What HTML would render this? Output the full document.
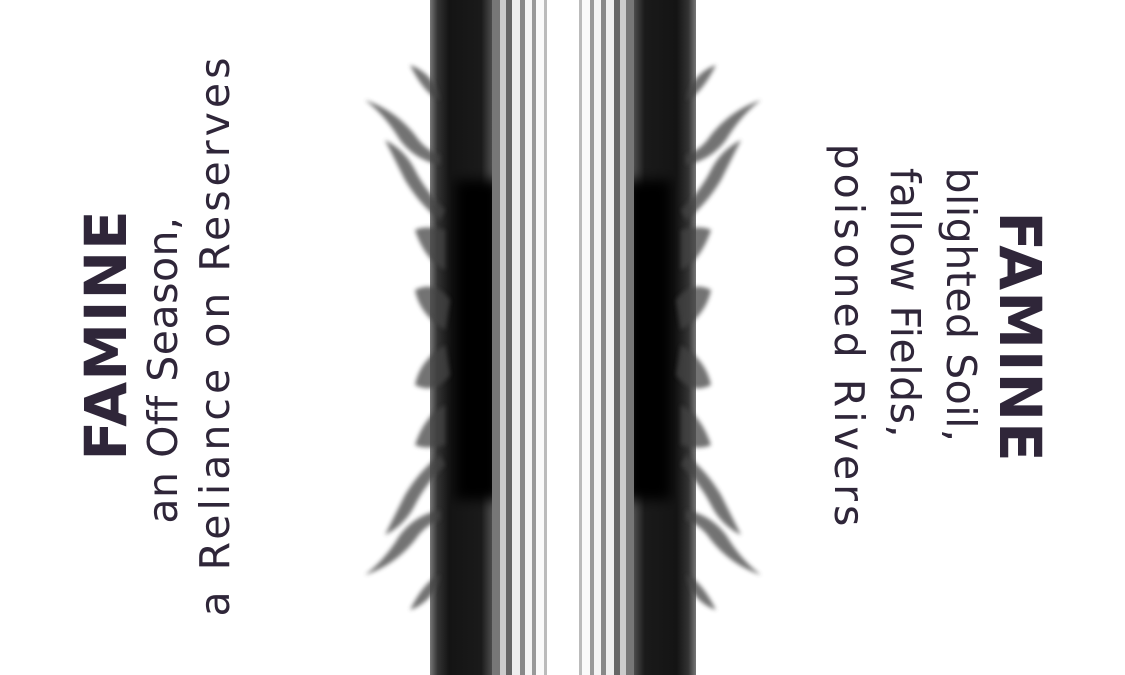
<!DOCTYPE html>
<html><head><meta charset="utf-8"><style>
html,body{margin:0;padding:0;background:#fff;width:1125px;height:675px;overflow:hidden;}
#card{position:relative;width:1125px;height:675px;overflow:hidden;background:#fff;font-family:"DejaVu Sans","Liberation Sans",sans-serif;color:#2f2639;}
.blk{position:absolute;left:0;top:0;width:600px;text-align:center;white-space:nowrap;}
.t{display:block;font-size:41px;line-height:52px;letter-spacing:4px;position:relative;}
.h{display:block;font-size:58px;font-weight:bold;line-height:62px;letter-spacing:1px;}
#right .t{line-height:56px;}
</style></head><body>
<div id="card">
<svg width="1125" height="675" style="position:absolute;left:0;top:0">
<defs>
<filter id="b2"><feGaussianBlur stdDeviation="2"/></filter>
<filter id="b6"><feGaussianBlur stdDeviation="6"/></filter>
<linearGradient id="band" x1="0" x2="1" y1="0" y2="0">
<stop offset="0" stop-color="#777"/><stop offset="0.12" stop-color="#333"/><stop offset="0.3" stop-color="#141414"/><stop offset="0.8" stop-color="#1a1a1a"/><stop offset="1" stop-color="#555"/>
</linearGradient>
<g id="half">
<rect x="430" y="0" width="64" height="675" fill="url(#band)"/>
<rect x="455" y="180" width="45" height="320" fill="#000" filter="url(#b6)"/>
<rect x="492" y="0" width="8" height="675" fill="#777"/>
<rect x="500" y="0" width="6" height="675" fill="#ccc"/>
<rect x="506" y="0" width="6" height="675" fill="#666"/>
<rect x="512" y="0" width="8" height="675" fill="#eee"/>
<rect x="520" y="0" width="5" height="675" fill="#888"/>
<rect x="525" y="0" width="7" height="675" fill="#f4f4f4"/>
<rect x="532" y="0" width="4" height="675" fill="#999"/>
<rect x="536" y="0" width="8" height="675" fill="#fafafa"/>
<rect x="544" y="0" width="3" height="675" fill="#bbb"/>
<g fill="#444" opacity="0.75" filter="url(#b2)">
<path d="M365 100 q30 10 50 35 q10 15 25 20 l0 10 q-25 -5 -40 -25 q-15 -25 -35 -40z"/>
<path d="M410 65 q15 5 25 20 l5 15 q-15 -5 -30 -35z"/>
<path d="M385 140 q20 10 30 30 q10 20 30 40 l-5 10 q-20 -15 -35 -40 q-10 -20 -20 -40z"/>
<path d="M415 230 q10 -5 30 0 l0 40 q-20 -10 -30 -40z"/>
<path d="M415 290 q20 -10 35 10 l-5 30 q-25 -15 -30 -40z"/>
<path d="M365 575 q30 -10 50 -35 q10 -15 25 -20 l0 -10 q-25 5 -40 25 q-15 25 -35 40z"/>
<path d="M410 610 q15 -5 25 -20 l5 -15 q-15 5 -30 35z"/>
<path d="M385 535 q20 -10 30 -30 q10 -20 30 -40 l-5 -10 q-20 15 -35 40 q-10 20 -20 40z"/>
<path d="M415 445 q10 5 30 0 l0 -40 q-20 10 -30 40z"/>
<path d="M415 385 q20 10 35 -10 l-5 -30 q-25 15 -30 40z"/>
</g>
</g>
</defs>
<use href="#half"/>
<use href="#half" transform="translate(1126,0) scale(-1,1)"/>
</svg>
<div class="blk" style="transform:translate(158px,335px) translate(-300px,-83px) rotate(-90deg);">
<span class="h">FAMINE</span>
<span class="t" style="letter-spacing:0.5px;left:-35px">an Off Season,</span>
<span class="t">a Reliance on Reserves</span>
</div>
<div id="right" class="blk" style="transform:translate(936px,337px) translate(-300px,-115px) rotate(90deg);">
<span class="h">FAMINE</span>
<span class="t" style="letter-spacing:0.5px;left:-32px">blighted Soil,</span>
<span class="t" style="letter-spacing:0.5px;left:-34px">fallow Fields,</span>
<span class="t">poisoned Rivers</span>
</div>
</div>
</body></html>
